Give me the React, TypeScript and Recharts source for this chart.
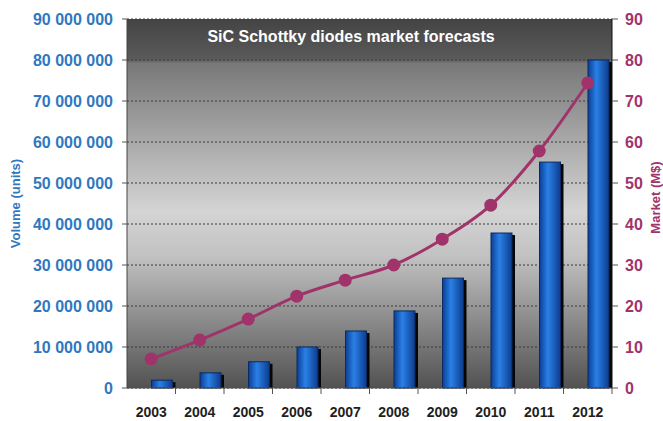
import React from 'react';
import { ComposedChart, Bar, Line, XAxis, YAxis, CartesianGrid } from 'recharts';

const years = ['2003', '2004', '2005', '2006', '2007', '2008', '2009', '2010', '2011', '2012'];
const volumeUnits = [1900000, 3700000, 6400000, 10000000, 13900000, 18800000, 26800000, 37800000, 55100000, 80000000];
const marketMUSD = [7.1, 11.7, 16.8, 22.4, 26.3, 30, 36.3, 44.6, 57.8, 74.4];
const volumeTicks = [0, 10000000, 20000000, 30000000, 40000000, 50000000, 60000000, 70000000, 80000000, 90000000];
const marketTicks = [0, 10, 20, 30, 40, 50, 60, 70, 80, 90];

const data = years.map((year, i) => ({ year, volume: volumeUnits[i], market: marketMUSD[i] }));

const BLUE = '#2f78bf';
const PLUM = '#a1336b';
const BAND = 48.5;
const FONT = 'Liberation Sans, Arial, sans-serif';

const spaced = (v: number) => String(v).replace(/\B(?=(\d{3})+(?!\d))/g, ' ');

const BarShape = (props: any) => {
  const { x, y, width, height } = props;
  if (!height || height <= 0) return null;
  const bx = x + width / 2;
  return (
    <g>
      <rect x={bx + 3} y={y + 2} width={width} height={height - 2} fill="#050505" />
      <rect x={bx} y={y} width={width} height={height} fill="url(#barGrad)" stroke="#0a2a60" strokeWidth={1} />
    </g>
  );
};

const XTick = (props: any) => {
  const { x, y, payload } = props;
  return (
    <g>
      <line x1={x + BAND / 2} y1={y - 8} x2={x + BAND / 2} y2={y - 2} stroke="#555" />
      <text x={x} y={y + 21} textAnchor="middle" fontSize={14} fontWeight="bold" fill="#1e1e1e" fontFamily={FONT}>
        {payload.value}
      </text>
    </g>
  );
};

export default function App() {
  return (
    <div style={{ position: 'absolute', left: 0, top: 0, width: 663, height: 421, background: '#fff' }}>
      <ComposedChart width={663} height={421} data={data} margin={{ top: 19, right: 0, bottom: 0, left: 0 }}>
        <defs>
          <linearGradient id="bgGrad" x1="0" y1="0" x2="0" y2="1">
            <stop offset="0" stopColor="#444444" />
            <stop offset="0.11" stopColor="#5a5a5a" />
            <stop offset="0.12" stopColor="#787878" />
            <stop offset="0.52" stopColor="#d4d4d4" />
            <stop offset="0.64" stopColor="#c2c2c2" />
            <stop offset="1" stopColor="#525252" />
          </linearGradient>
          <linearGradient id="barGrad" x1="0" y1="0" x2="1" y2="0">
            <stop offset="0" stopColor="#0b3f95" />
            <stop offset="0.4" stopColor="#2a80e6" />
            <stop offset="1" stopColor="#0c3c8e" />
          </linearGradient>
        </defs>
        <CartesianGrid vertical={false} fill="url(#bgGrad)" stroke="#3a3a3a" strokeDasharray="2 2" yAxisId="left" />
        <XAxis dataKey="year" height={33} tick={<XTick />} tickLine={false} axisLine={{ stroke: '#555' }} />
        <YAxis yAxisId="left" width={127} domain={[0, 90000000]} ticks={volumeTicks} tickFormatter={spaced}
          tick={{ fill: BLUE, fontSize: 16, fontWeight: 'bold', fontFamily: FONT }}
          tickLine={{ stroke: '#555' }} tickSize={5} tickMargin={9} axisLine={{ stroke: '#444' }} interval={0}
          label={{ value: 'Volume (units)', angle: -90, position: 'insideLeft', offset: 15,
            style: { fill: BLUE, fontSize: 13, fontWeight: 'bold', fontFamily: FONT, textAnchor: 'middle' } }} />
        <YAxis yAxisId="right" orientation="right" width={51} domain={[0, 90]} ticks={marketTicks}
          tick={{ fill: PLUM, fontSize: 16, fontWeight: 'bold', fontFamily: FONT }}
          tickLine={{ stroke: '#555' }} tickSize={6} tickMargin={7} axisLine={{ stroke: '#111' }} interval={0}
          label={{ value: 'Market (M$)', angle: -90, position: 'insideRight', offset: 0, dx: -8, dy: -6,
            style: { fill: PLUM, fontSize: 13, fontWeight: 'bold', fontFamily: FONT, textAnchor: 'middle' } }} />
        <Bar yAxisId="left" dataKey="volume" barSize={21} shape={<BarShape />} isAnimationActive={false} />
        <Line yAxisId="right" dataKey="market" type="monotone" stroke={PLUM} strokeWidth={3}
          dot={{ r: 5, fill: PLUM, stroke: PLUM }} isAnimationActive={false} />
      </ComposedChart>
      <div style={{ position: 'absolute', left: 127, width: 448, top: 28, textAlign: 'center', color: '#fff',
        fontFamily: FONT, fontWeight: 'bold', fontSize: 16 }}>
        SiC Schottky diodes market forecasts
      </div>
    </div>
  );
}
